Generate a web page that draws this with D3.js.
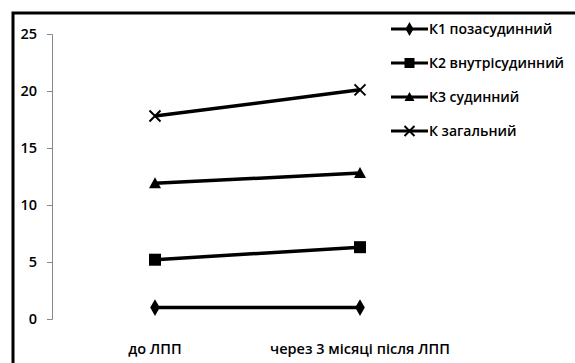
<!DOCTYPE html>
<html><head><meta charset="utf-8">
<script src="https://cdn.jsdelivr.net/npm/d3@7"></script>
<style>body{margin:0;background:#fff}svg{display:block;font-family:"Open Sans",sans-serif}</style>
</head><body><svg id="c" width="575" height="363"></svg>
<script>
const categories = ["до ЛПП", "через 3 місяці після ЛПП"];
const seriesNames = ["К1 позасудинний", "К2 внутрісудинний", "К3 судинний", "К загальний"];
const k1 = [1.0, 1.0];
const k2 = [5.2, 6.3];
const k3 = [11.9, 12.8];
const kTotal = [17.8, 20.1];
const yTicks = [0, 5, 10, 15, 20, 25];
const symbols = ["diamond", "square", "triangle", "x"];
const series = [k1, k2, k3, kTotal];

const svg = d3.select("#c");
svg.append("rect").attr("x", 13).attr("y", 13).attr("width", 575).attr("height", 380)
  .attr("fill", "none").attr("stroke", "#000").attr("stroke-width", 3);

const x = d3.scalePoint().domain(categories).range([155, 360]);
const y = d3.scaleLinear().domain([0, 25]).range([319, 34]);

const yAxis = svg.append("g").attr("transform", "translate(52,0)")
  .call(d3.axisLeft(y).tickValues(yTicks).tickSize(5).tickPadding(10));
yAxis.select(".domain").attr("stroke", "#888");
yAxis.selectAll(".tick line").attr("stroke", "#888");
yAxis.selectAll("text").attr("font-size", 14.5).attr("font-weight", 600).attr("fill", "#000").attr("font-family", "Open Sans");

svg.append("g").selectAll("text").data(categories).join("text")
  .attr("x", d => x(d)).attr("y", 354).attr("text-anchor", "middle")
  .attr("font-size", 14.5).attr("font-weight", 600).attr("font-family", "Open Sans").text(d => d);

function marker(g, type, cx, cy, s) {
  if (type === "diamond") {
    g.append("path").attr("d", d3.symbol(d3.symbolDiamond, s * s * 0.55)())
      .attr("transform", `translate(${cx},${cy})`).attr("fill", "#000");
  } else if (type === "square") {
    g.append("rect").attr("x", cx - s / 2).attr("y", cy - s / 2).attr("width", s).attr("height", s).attr("fill", "#000");
  } else if (type === "triangle") {
    g.append("path").attr("d", `M${cx},${cy - s / 2}L${cx + s / 2},${cy + s / 2 - 1}L${cx - s / 2},${cy + s / 2 - 1}Z`).attr("fill", "#000");
  } else {
    const h = s / 2;
    g.append("path").attr("d", `M${cx - h},${cy - h}L${cx + h},${cy + h}M${cx - h},${cy + h}L${cx + h},${cy - h}`)
      .attr("stroke", "#000").attr("stroke-width", 2).attr("fill", "none");
  }
}

const line = d3.line().x((d, i) => x(categories[i])).y(d => y(d));
series.forEach((vals, si) => {
  const g = svg.append("g");
  g.append("path").attr("d", line(vals)).attr("fill", "none").attr("stroke", "#000").attr("stroke-width", 3.5);
  vals.forEach((v, i) => marker(g, symbols[si], x(categories[i]), y(v), si === 3 ? 11 : 12));
});

const legY = [29, 63, 97, 131];
seriesNames.forEach((n, i) => {
  const g = svg.append("g");
  g.append("line").attr("x1", 391).attr("x2", 428).attr("y1", legY[i]).attr("y2", legY[i]).attr("stroke", "#000").attr("stroke-width", 3);
  marker(g, symbols[i], 409.5, legY[i], i === 3 ? 10 : 10);
  g.append("text").attr("x", 429).attr("y", legY[i] + 5).attr("font-size", 14).attr("font-weight", 600)
    .attr("font-family", "Open Sans").text(n);
});
</script></body></html>
